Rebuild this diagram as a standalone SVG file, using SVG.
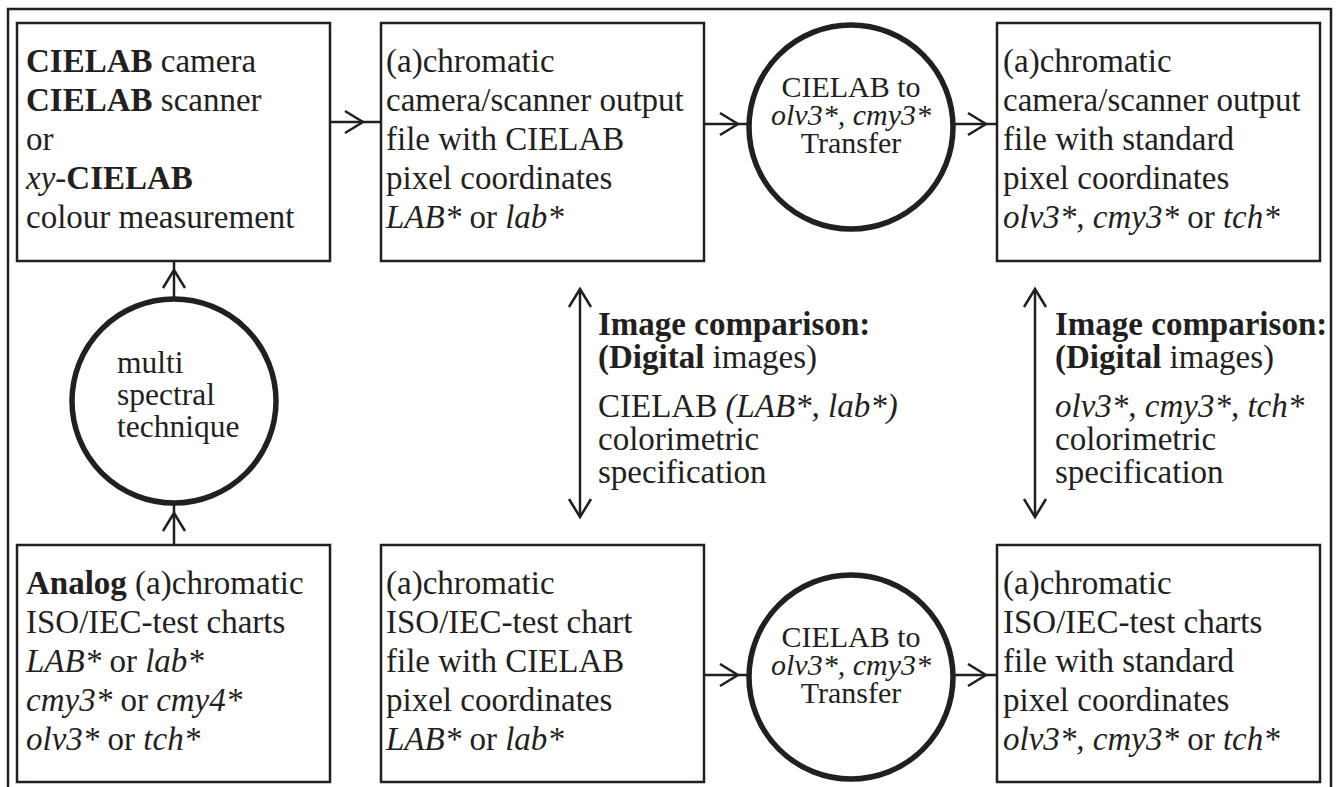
<svg xmlns="http://www.w3.org/2000/svg" width="1338" height="787" viewBox="0 0 1338 787">
<style>
.frame{fill:none;stroke:#231f20;stroke-width:2.5}
.box{fill:#fff;stroke:#231f20;stroke-width:2.5}
.circ{fill:#fff;stroke:#231f20;stroke-width:5.5}
.conn{fill:none;stroke:#231f20;stroke-width:2.5}
text{font-family:"Liberation Serif","Times New Roman",Times,serif;font-size:33px;fill:#231f20}
.c{font-size:30px;text-anchor:middle}
.m{font-size:31.5px}
.b{font-weight:bold}
.i{font-style:italic}
</style>
<defs>
<marker id="chev" markerUnits="userSpaceOnUse" viewBox="-20 -13 22 26" refX="0" refY="0" markerWidth="22" markerHeight="26" orient="auto-start-reverse" overflow="visible">
<path d="M-18,-11 L0,0 L-18,11" fill="none" stroke="#231f20" stroke-width="2.5"/>
</marker>
</defs>
<rect width="1338" height="787" fill="#fff"/>
<path class="frame" d="M8,787 V9 H1331 V787"/>

<g id="connectors">
<path class="conn" marker-mid="url(#chev)" d="M330,122 L363,122 L381,122"/>
<path class="conn" marker-mid="url(#chev)" d="M704,124 L738,124 L748,124"/>
<path class="conn" marker-mid="url(#chev)" d="M954,124 L986,124 L997,124"/>
<path class="conn" marker-mid="url(#chev)" d="M174,297 L174,270 L174,261"/>
<path class="conn" marker-mid="url(#chev)" d="M174,545 L174,513 L174,505"/>
<path class="conn" marker-mid="url(#chev)" d="M704,675 L738,675 L748,675"/>
<path class="conn" marker-mid="url(#chev)" d="M954,675 L986,675 L997,675"/>
<path class="conn" marker-start="url(#chev)" marker-end="url(#chev)" d="M580,289 L580,517"/>
<path class="conn" marker-start="url(#chev)" marker-end="url(#chev)" d="M1035,289 L1035,517"/>
</g>

<g id="box-cielab-devices">
<rect class="box" x="17" y="23" width="313" height="238"/>
<text x="26" y="72"><tspan class="b">CIELAB</tspan> camera</text>
<text x="26" y="111"><tspan class="b">CIELAB</tspan> scanner</text>
<text x="26" y="150">or</text>
<text x="26" y="189"><tspan class="i">xy</tspan>-<tspan class="b">CIELAB</tspan></text>
<text x="26" y="228">colour measurement</text>
</g>

<g id="box-camera-cielab">
<rect class="box" x="381" y="23" width="323" height="238"/>
<text x="386" y="72">(a)chromatic</text>
<text x="386" y="111">camera/scanner output</text>
<text x="386" y="150">file with CIELAB</text>
<text x="386" y="189">pixel coordinates</text>
<text x="386" y="228"><tspan class="i">LAB*</tspan> or <tspan class="i">lab*</tspan></text>
</g>

<g id="circle-transfer-top">
<circle class="circ" cx="851" cy="127" r="102"/>
<text class="c" x="851" y="97">CIELAB to</text>
<text class="c i" x="851" y="125">olv3*, cmy3*</text>
<text class="c" x="851" y="153">Transfer</text>
</g>

<g id="box-camera-standard">
<rect class="box" x="997" y="23" width="323" height="238"/>
<text x="1003" y="72">(a)chromatic</text>
<text x="1003" y="111">camera/scanner output</text>
<text x="1003" y="150">file with standard</text>
<text x="1003" y="189">pixel coordinates</text>
<text x="1003" y="228"><tspan class="i">olv3*, cmy3*</tspan> or <tspan class="i">tch*</tspan></text>
</g>

<g id="circle-multispectral">
<circle class="circ" cx="174" cy="401" r="102"/>
<text class="m" x="117" y="373">multi</text>
<text class="m" x="117" y="405">spectral</text>
<text class="m" x="117" y="437">technique</text>
</g>

<g id="label-compare-cielab">
<text x="598" y="335"><tspan class="b">Image comparison:</tspan></text>
<text x="598" y="368"><tspan class="b">(Digital</tspan> images)</text>
<text x="598" y="417">CIELAB <tspan class="i">(LAB*, lab*)</tspan></text>
<text x="598" y="450">colorimetric</text>
<text x="598" y="483">specification</text>
</g>

<g id="label-compare-standard">
<text x="1055" y="335"><tspan class="b">Image comparison:</tspan></text>
<text x="1055" y="368"><tspan class="b">(Digital</tspan> images)</text>
<text x="1055" y="417"><tspan class="i">olv3*, cmy3*, tch*</tspan></text>
<text x="1055" y="450">colorimetric</text>
<text x="1055" y="483">specification</text>
</g>

<g id="box-analog-charts">
<rect class="box" x="17" y="545" width="313" height="237"/>
<text x="26" y="594"><tspan class="b">Analog</tspan> (a)chromatic</text>
<text x="26" y="633">ISO/IEC-test charts</text>
<text x="26" y="672"><tspan class="i">LAB*</tspan> or <tspan class="i">lab*</tspan></text>
<text x="26" y="711"><tspan class="i">cmy3*</tspan> or <tspan class="i">cmy4*</tspan></text>
<text x="26" y="750"><tspan class="i">olv3*</tspan> or <tspan class="i">tch*</tspan></text>
</g>

<g id="box-chart-cielab">
<rect class="box" x="381" y="545" width="323" height="237"/>
<text x="386" y="594">(a)chromatic</text>
<text x="386" y="633">ISO/IEC-test chart</text>
<text x="386" y="672">file with CIELAB</text>
<text x="386" y="711">pixel coordinates</text>
<text x="386" y="750"><tspan class="i">LAB*</tspan> or <tspan class="i">lab*</tspan></text>
</g>

<g id="circle-transfer-bottom">
<circle class="circ" cx="851" cy="677" r="102"/>
<text class="c" x="851" y="647">CIELAB to</text>
<text class="c i" x="851" y="675">olv3*, cmy3*</text>
<text class="c" x="851" y="703">Transfer</text>
</g>

<g id="box-chart-standard">
<rect class="box" x="997" y="545" width="323" height="237"/>
<text x="1003" y="594">(a)chromatic</text>
<text x="1003" y="633">ISO/IEC-test charts</text>
<text x="1003" y="672">file with standard</text>
<text x="1003" y="711">pixel coordinates</text>
<text x="1003" y="750"><tspan class="i">olv3*, cmy3*</tspan> or <tspan class="i">tch*</tspan></text>
</g>
</svg>
